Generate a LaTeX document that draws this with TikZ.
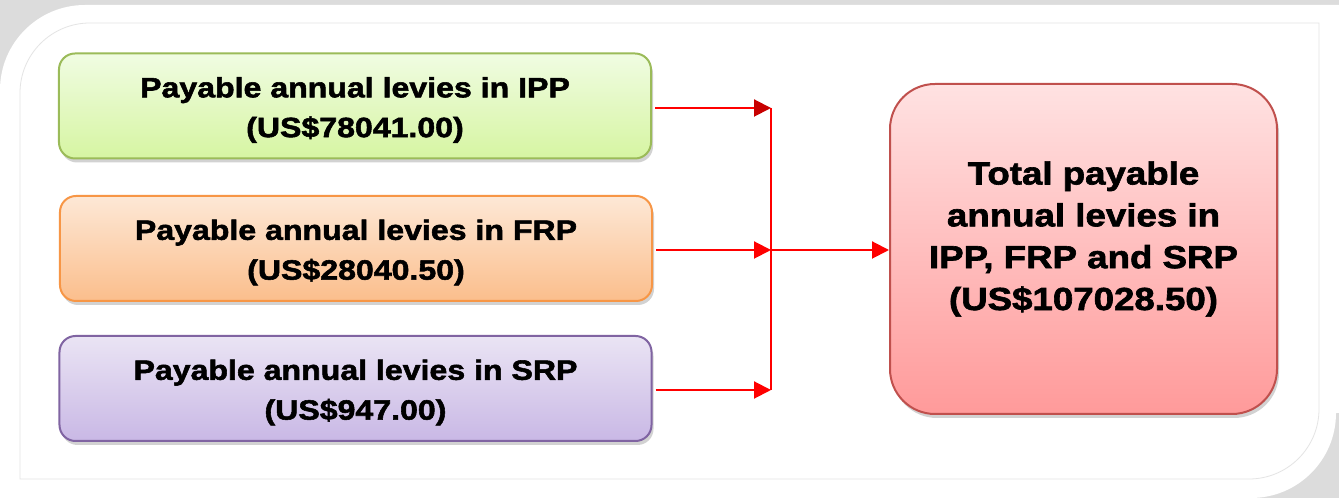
\documentclass[tikz,border=0pt]{standalone}
\usepackage{fontspec}
\newfontfamily\heavy{Liberation Sans Bold}[FakeBold=2, FakeStretch=1.15]
\usetikzlibrary{arrows.meta,shadows}
\definecolor{gtop}{HTML}{F0FCE2}
\definecolor{gbot}{HTML}{D6F5A2}
\definecolor{gbor}{HTML}{9BBB59}
\definecolor{otop}{HTML}{FDE8D6}
\definecolor{obot}{HTML}{FBBE8C}
\definecolor{obor}{HTML}{F79646}
\definecolor{ptop}{HTML}{EAE4F4}
\definecolor{pbot}{HTML}{C9B8E5}
\definecolor{pbor}{HTML}{8064A2}
\definecolor{rtop}{HTML}{FFE2E2}
\definecolor{rbot}{HTML}{FF9A9A}
\definecolor{rbor}{HTML}{C0504D}
\definecolor{bgray}{HTML}{DCDCDC}
\definecolor{lgray}{HTML}{E4E4E4}
\tikzset{
  leftbox/.style={rounded corners=16bp, line width=2bp, minimum width=592bp, minimum height=105bp,
    shading=axis, drop shadow={opacity=0.35, shadow xshift=2bp, shadow yshift=-4bp}},
  lefttext/.style={align=center, font=\heavy\fontsize{28}{40}\selectfont, text=black, yshift=-4bp},
  link/.style={red, line width=2bp},
  tip/.style={-{Triangle[length=17bp,width=17bp]}}
}
\begin{document}
\begin{tikzpicture}[x=1bp,y=1bp]
\useasboundingbox (0,0) rectangle (1339,498);
\fill[bgray] (0,0) rectangle (1339,498);
\fill[white] (0,0) -- (0,408) arc[start angle=180,end angle=90,radius=85] -- (1339,493)
  -- (1339,85) -- (1336,85) arc[start angle=0,end angle=-90,radius=85] -- cycle;
\draw[lgray, line width=0.8bp] (20,19) -- (20,405) arc[start angle=180,end angle=90,radius=70]
  -- (1319,475) -- (1319,89) arc[start angle=0,end angle=-90,radius=70] -- cycle;
\node[leftbox, draw=gbor, top color=gtop, bottom color=gbot] (b1) at (355,392) {};
\node[lefttext] (t1) at (b1.center) {Payable annual levies in IPP\\(US\$78041.00)};
\node[leftbox, draw=obor, top color=otop, bottom color=obot] (b2) at (356,249.5) {};
\node[lefttext] (t2) at (b2.center) {Payable annual levies in FRP\\(US\$28040.50)};
\node[leftbox, draw=pbor, top color=ptop, bottom color=pbot] (b3) at (355.5,109.5) {};
\node[lefttext] (t3) at (b3.center) {Payable annual levies in SRP\\(US\$947.00)};
\node[rounded corners=45bp, line width=2bp, draw=rbor, top color=rtop, bottom color=rbot,
  minimum width=387bp, minimum height=330bp,
  drop shadow={opacity=0.35, shadow xshift=2bp, shadow yshift=-4bp}] (tot) at (1083.5,249) {};
\node[align=center, font=\heavy\fontsize{32}{42}\selectfont, text=black, yshift=10bp] (tt) at (tot.center)
  {Total payable\\annual levies in\\IPP, FRP and SRP\\(US\$107028.50)};
\coordinate (bt) at (771,390);
\coordinate (bm) at (771,248);
\coordinate (bb) at (771,108);
\draw[link] (bt) -- (bb);
\draw[link, -{Triangle[length=17bp,width=17bp,color=red!78!black]}] (b1.east |- bt) ++(3,0) -- (bt);
\draw[link, tip] (b2.east |- bm) ++(3,0) -- (bm);
\draw[link, tip] (b3.east |- bb) ++(3,0) -- (bb);
\draw[link, tip] (bm) -- (tot.west |- bm);
\end{tikzpicture}
\end{document}
